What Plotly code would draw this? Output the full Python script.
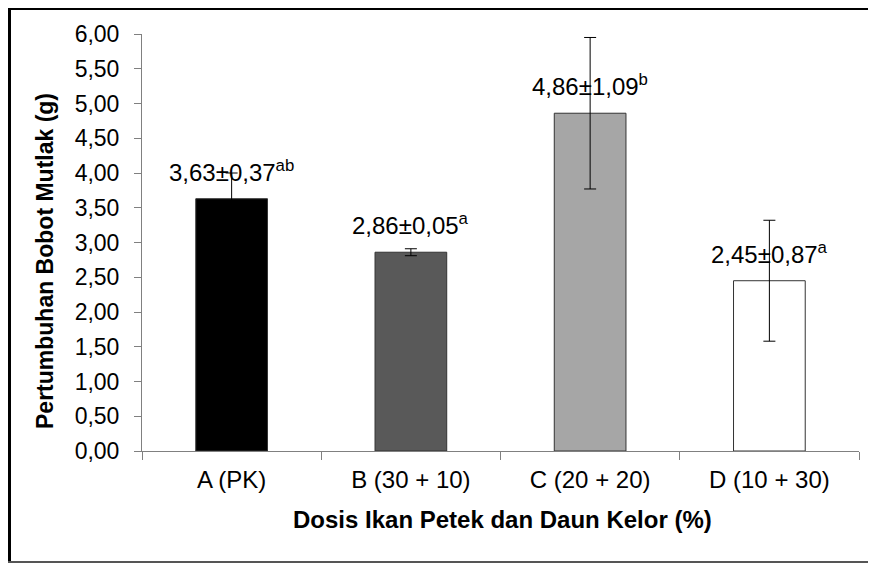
import plotly.graph_objects as go

categories = ["A (PK)", "B (30 + 10)", "C (20 + 20)", "D (10 + 30)"]
means = [3.63, 2.86, 4.86, 2.45]
sds = [0.37, 0.05, 1.09, 0.87]
letters = ["ab", "a", "b", "a"]
bar_colors = ["#000000", "#595959", "#a6a6a6", "#ffffff"]
y_ticks = [0, 0.5, 1, 1.5, 2, 2.5, 3, 3.5, 4, 4.5, 5, 5.5, 6]
y_tick_labels = [f"{v:.2f}".replace(".", ",") for v in y_ticks]

FONT = "Liberation Sans, Arial, sans-serif"

# page offset (body margin) compensation
OFF = 8
L, R, T, B = 142 - OFF, 859 - OFF, 34 - OFF, 451 - OFF
W, H = R - L, B - T


def px_x(p):
    return (p - OFF - L) / W


def px_y(p):
    return (B - (p - OFF)) / H


def fmt(v):
    return f"{v:.2f}".replace(".", ",")


fig = go.Figure()
fig.add_trace(go.Bar(
    x=categories, y=means,
    marker=dict(color=bar_colors, line=dict(color="#333333", width=1)),
    error_y=dict(type="data", array=sds, visible=True, color="#000000",
                 thickness=1, width=6),
    width=0.4,
    showlegend=False,
    hoverinfo="skip",
))

for c, m, s, l in zip(categories, means, sds, letters):
    fig.add_annotation(
        x=c, y=m, xref="x", yref="y",
        text=f"{fmt(m)}±{fmt(s)}<sup>{l}</sup>",
        showarrow=False, yanchor="bottom", yshift=11,
        font=dict(family=FONT, size=24, color="#000000"),
    )

# axis titles
fig.add_annotation(
    x=px_x(502), y=px_y(519), xref="paper", yref="paper",
    text="<b>Dosis Ikan Petek dan Daun Kelor (%)</b>", showarrow=False,
    xanchor="center", yanchor="middle",
    font=dict(family=FONT, size=24, color="#000000"),
)
fig.add_annotation(
    x=px_x(45), y=px_y(261), xref="paper", yref="paper",
    text="<b>Pertumbuhan Bobot Mutlak (g)</b>", showarrow=False, textangle=-90,
    xanchor="center", yanchor="middle",
    font=dict(family=FONT, size=23, color="#000000"),
)

# outer frame
fig.add_shape(type="line", xref="paper", yref="paper",
              x0=px_x(8), x1=px_x(900), y0=px_y(8.5), y1=px_y(8.5),
              line=dict(color="#000000", width=3))
fig.add_shape(type="line", xref="paper", yref="paper",
              x0=px_x(9.5), x1=px_x(9.5), y0=px_y(7), y1=px_y(563),
              line=dict(color="#000000", width=3))
fig.add_shape(type="line", xref="paper", yref="paper",
              x0=px_x(8), x1=px_x(900), y0=px_y(562), y1=px_y(562),
              line=dict(color="#555555", width=2))

fig.update_layout(
    width=876, height=565,
    margin=dict(l=L, r=876 - R, t=T, b=565 - B),
    paper_bgcolor="#ffffff", plot_bgcolor="#ffffff",
    bargap=0.6,
    font=dict(family=FONT, size=22, color="#000000"),
    xaxis=dict(
        showline=True, linecolor="#808080", linewidth=1,
        ticks="outside", ticklen=8, tickcolor="#808080", tickwidth=1,
        tickson="boundaries", showgrid=False, zeroline=False,
        ticklabelstandoff=7,
        tickfont=dict(family=FONT, size=24, color="#000000"),
    ),
    yaxis=dict(
        range=[0, 6], tickvals=y_ticks, ticktext=y_tick_labels,
        showline=True, linecolor="#808080", linewidth=1,
        ticks="outside", ticklen=7, tickcolor="#808080", tickwidth=1,
        showgrid=False, zeroline=False,
        ticklabelstandoff=10,
        tickfont=dict(family=FONT, size=23, color="#000000"),
    ),
)

fig.write_html("out.html")
